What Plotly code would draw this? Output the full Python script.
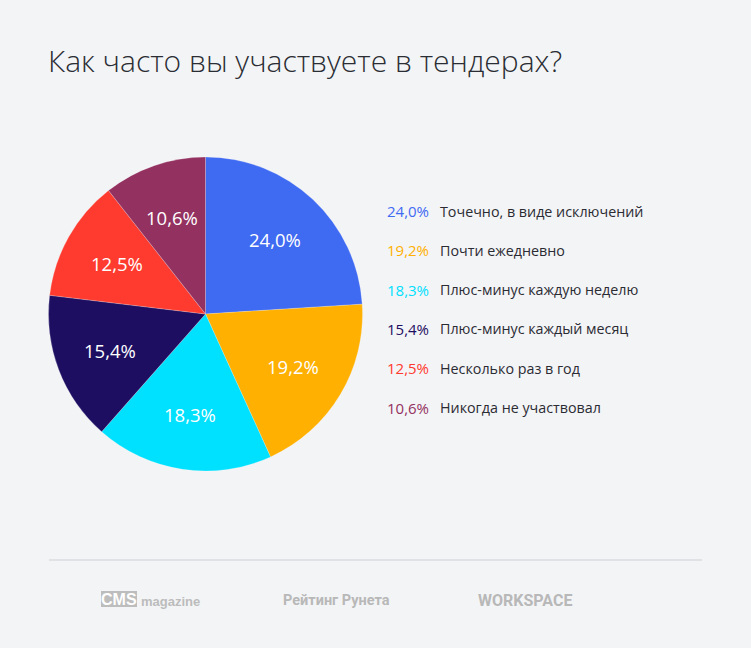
import math
import plotly.graph_objects as go

categories = ["Точечно, в виде исключений", "Почти ежедневно", "Плюс-минус каждую неделю",
              "Плюс-минус каждый месяц", "Несколько раз в год", "Никогда не участвовал"]
values = [24.0, 19.2, 18.3, 15.4, 12.5, 10.6]
colors = ["#3f6af2", "#ffb000", "#00e0ff", "#1e0e62", "#ff3a2e", "#933160"]
title_text = "Как часто вы участвуете в тендерах?"

W, H = 751, 648
BG = "#f3f4f6"
cx, cy, r = 205.5, 314, 157

fig = go.Figure()
fig.add_trace(go.Pie(
    labels=categories, values=values, sort=False, direction="clockwise", rotation=0,
    marker=dict(colors=colors, line=dict(width=0.6, color="rgba(255,255,255,0.35)")),
    textinfo="none", hoverinfo="label+percent", showlegend=False,
    domain=dict(x=[(cx - r) / W, (cx + r) / W], y=[1 - (cy + r) / H, 1 - (cy - r) / H]),
))

FONT = "Open Sans"


def px(x):
    return x / W


def py(y):
    return 1 - y / H


ann = []
total = sum(values)
cum = 0
for v in values:
    mid = (cum + v / 2) / total * 2 * math.pi
    cum += v
    rr = r * 0.65
    lx = cx + rr * math.sin(mid)
    ly = cy - rr * math.cos(mid)
    ann.append(dict(x=px(lx), y=py(ly), xref="paper", yref="paper",
                    xanchor="center", yanchor="middle",
                    text=f"{v:.1f}%".replace(".", ","), showarrow=False,
                    font=dict(family=FONT, size=18.5, color="white")))

# legend
y0, dy = 211, 39.3
for i, (c, v, col) in enumerate(zip(categories, values, colors)):
    yy = y0 + i * dy
    ann.append(dict(x=px(431), y=py(yy), xref="paper", yref="paper",
                    xanchor="right", yanchor="middle",
                    text=f"{v:.1f}%".replace(".", ","), showarrow=False,
                    font=dict(family=FONT, size=15, color=col)))
    ann.append(dict(x=px(438), y=py(yy), xref="paper", yref="paper",
                    xanchor="left", yanchor="middle",
                    text=c, showarrow=False,
                    font=dict(family=FONT, size=14.3, color="#2b2b33")))

# title
ann.append(dict(x=px(46), y=py(61), xref="paper", yref="paper",
                xanchor="left", yanchor="middle",
                text=title_text, showarrow=False,
                font=dict(family=FONT, size=30, color="#2a2d33", weight=300)))

# footer
ann.append(dict(x=px(119), y=py(599.5), xref="paper", yref="paper",
                xanchor="center", yanchor="middle",
                text="<b>CMS</b>", showarrow=False,
                font=dict(family="Liberation Sans", size=16, color="white")))
ann.append(dict(x=px(139), y=py(601), xref="paper", yref="paper",
                xanchor="left", yanchor="middle",
                text="<b>magazine</b>", showarrow=False,
                font=dict(family="Liberation Sans Narrow, Liberation Sans", size=13, color="#bcbcbc")))
ann.append(dict(x=px(336), y=py(600), xref="paper", yref="paper",
                xanchor="center", yanchor="middle",
                text="<b>Рейтинг Рунета</b>", showarrow=False,
                font=dict(family="Roboto", size=14.5, color="#b8b8b8")))
ann.append(dict(x=px(525), y=py(600), xref="paper", yref="paper",
                xanchor="center", yanchor="middle",
                text="<b>WORKSPACE</b>", showarrow=False,
                font=dict(family="Roboto", size=16, color="#b8b8b8")))

fig.update_layout(
    width=W, height=H, margin=dict(l=0, r=0, t=0, b=0),
    paper_bgcolor=BG, plot_bgcolor=BG, annotations=ann,
    shapes=[
        dict(type="line", xref="paper", yref="paper", x0=px(49), x1=px(702),
             y0=py(560), y1=py(560), line=dict(color="#dcdde0", width=1.5)),
        dict(type="rect", xref="paper", yref="paper", x0=px(101), x1=px(137),
             y0=py(607), y1=py(591), fillcolor="#bdbdbd", line=dict(width=0), layer="below"),
    ],
)
fig.write_html("out.html")
